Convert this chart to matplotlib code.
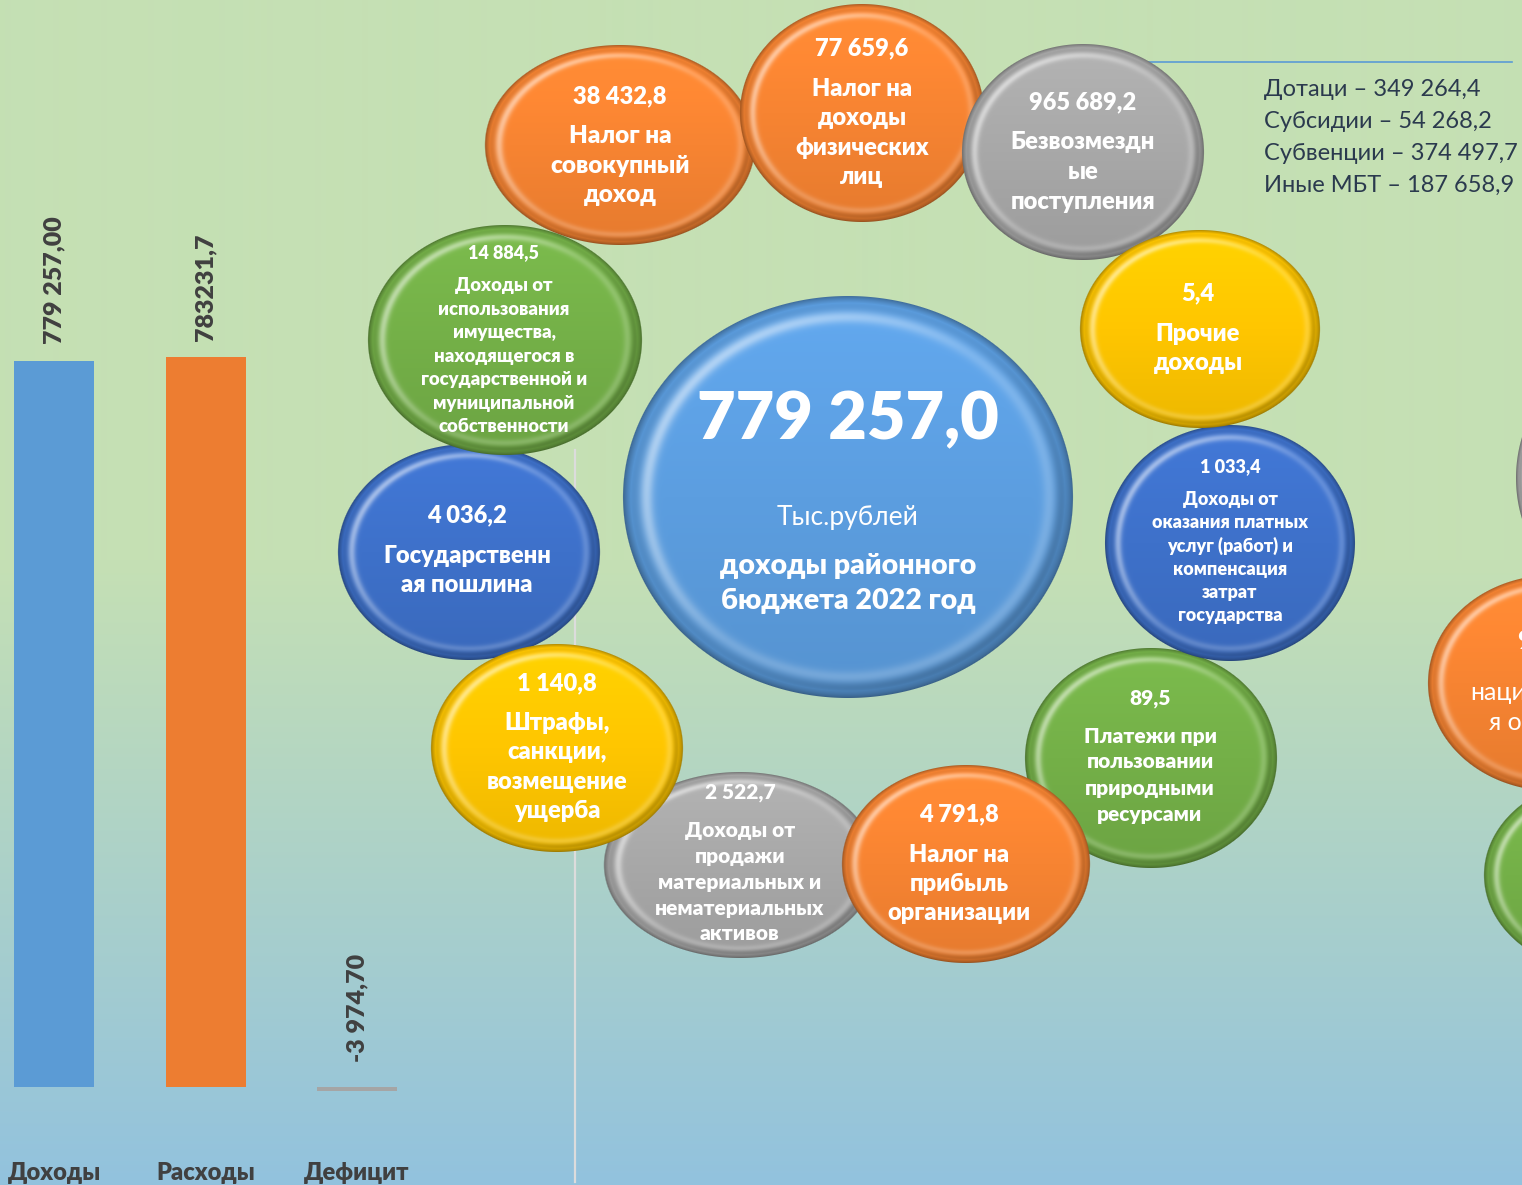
import numpy as np
import matplotlib
matplotlib.use("Agg")
import matplotlib.pyplot as plt

plt.rcParams['font.family'] = ['Lato', 'DejaVu Sans']
BOLD = 'heavy'

# ---------------- data ----------------
bar_categories = ['Доходы', 'Расходы', 'Дефицит']
bar_values = [779257.0, 783231.7, -3974.7]
bar_labels = ['779 257,00', '783231,7', '-3 974,70']

bubble_values = ['38 432,8', '77 659,6', '965 689,2', '5,4', '1 033,4', '89,5',
                 '4 791,8', '2 522,7', '1 140,8', '4 036,2', '14 884,5']
bubble_titles = [
    ['Налог на', 'совокупный', 'доход'],
    ['Налог на', 'доходы', 'физических', 'лиц'],
    ['Безвозмездн', 'ые', 'поступления'],
    ['Прочие', 'доходы'],
    ['Доходы от', 'оказания платных', 'услуг (работ) и', 'компенсация', 'затрат', 'государства'],
    ['Платежи при', 'пользовании', 'природными', 'ресурсами'],
    ['Налог на', 'прибыль', 'организации'],
    ['Доходы от', 'продажи', 'материальных и', 'нематериальных', 'активов'],
    ['Штрафы,', 'санкции,', 'возмещение', 'ущерба'],
    ['Государственн', 'ая пошлина'],
    ['Доходы от', 'использования', 'имущества,', 'находящегося в',
     'государственной и', 'муниципальной', 'собственности'],
]
center_value = '779 257,0'
center_unit = 'Тыс.рублей'
center_title = ['доходы районного', 'бюджета 2022 год']
transfer_lines = ['Дотаци – 349 264,4', 'Субсидии – 54 268,2',
                  'Субвенции – 374 497,7', 'Иные МБТ – 187 658,9']
partial_texts = ['9', 'наци', 'я о']

# ---------------- layout / style ----------------
W, H = 1522, 1185
DPI = 100
fig = plt.figure(figsize=(W / DPI, H / DPI), dpi=DPI)

# background gradient
ax_bg = fig.add_axes([0, 0, 1, 1], zorder=0)
yy = np.arange(H)
top = np.array([197, 224, 180]) / 255
bot = np.array([146, 194, 222]) / 255
t = np.clip((yy - 560) / (H - 560), 0, 1)[:, None]
grad = (top * (1 - t) + bot * t)[:, None, :]
ax_bg.imshow(grad, extent=(0, W, H, 0), aspect='auto', interpolation='bilinear')
ax_bg.set_xlim(0, W); ax_bg.set_ylim(H, 0); ax_bg.axis('off')

# ---------------- bar chart ----------------
base_px, top_px = 1087, 361
scale = (base_px - top_px) / bar_values[0]          # px per unit
ax_top_px, ax_bot_px = 150, 1133
ylim_top = (base_px - ax_top_px) / scale
ylim_bot = -(ax_bot_px - base_px) / scale
spacing = 151.5
x_left_px, x_right_px = 0, 430
ax = fig.add_axes([x_left_px / W, (H - ax_bot_px) / H, (x_right_px - x_left_px) / W,
                   (ax_bot_px - ax_top_px) / H], zorder=1)
ax.patch.set_alpha(0)
bar_colors = ['#5b9bd5', '#ed7d31', '#a5a5a5']
xs = np.arange(len(bar_values))
ax.bar(xs, bar_values, width=80 / spacing, color=bar_colors)
ax.set_xlim(-54 / spacing, (x_right_px - 54) / spacing)
ax.set_ylim(ylim_bot, ylim_top)
for s in ax.spines.values():
    s.set_visible(False)
ax.set_yticks([])
ax.set_xticks(xs)
ax.set_xticklabels(bar_categories, fontsize=17, fontweight=BOLD, color='#404040')
ax.tick_params(axis='x', length=0, pad=21)
for x, v, lab in zip(xs, bar_values, bar_labels):
    off = 12 if v > 0 else 18
    ax.annotate(lab, (x, max(v, 0)), xytext=(0, off), textcoords='offset points',
                rotation=90, ha='center', va='bottom', fontsize=18, fontweight=BOLD,
                color='#404040')

# ---------------- overlay ----------------
ov = fig.add_axes([0, 0, 1, 1], zorder=2)
ov.patch.set_alpha(0)
ov.axis('off')

ov.plot([575, 575], [450, 1182], color='#dcdcdc', lw=1.6, zorder=0.5)
ov.plot([1075, 1512], [62, 62], color='#5b9bd5', lw=1.2, zorder=0.5)

palette = {
    'orange': (247, 132, 50),
    'gray': (168, 168, 168),
    'yellow': (255, 198, 0),
    'blue': (62, 113, 202),
    'green': (116, 176, 72),
    'cblue': (92, 158, 224),
}


def bubble(cx, cy, a, b, key, z):
    base = np.array(palette[key]) / 255.0
    x0, x1 = int(cx - a - 3), int(cx + a + 3)
    y0, y1 = int(cy - b - 3), int(cy + b + 3)
    X, Y = np.meshgrid(np.arange(x0, x1) + 0.5, np.arange(y0, y1) + 0.5)
    u = (X - cx) / a
    v = (Y - cy) / b
    r = np.sqrt(u ** 2 + v ** 2)
    img = np.broadcast_to(base, r.shape + (3,)).copy()
    shade = 1 + 0.07 * (-v)
    img = img * shade[..., None]
    lightdir = (-0.8 * u - 0.6 * v) / (r + 1e-6)
    ring = np.exp(-((r - 0.895) / 0.03) ** 2)
    hl = ring * (0.18 + 0.32 * np.clip(lightdir, 0, 1))
    img = img + (1 - img) * hl[..., None]
    sh = np.exp(-((r - 0.95) / 0.03) ** 2) * (0.10 + 0.12 * np.clip(-lightdir, 0, 1))
    img = img * (1 - sh[..., None])
    rim = np.clip((r - 0.965) / 0.035, 0, 1)
    img = img * (1 - 0.35 * rim[..., None])
    img = np.clip(img, 0, 1)
    alpha = np.clip((1 - r) * min(a, b) + 0.5, 0, 1)
    rgba = np.dstack([img, alpha])
    ov.imshow(rgba, extent=(x0, x1, y1, y0), aspect='auto', zorder=z,
              interpolation='bilinear')


# (cx, cy, a, b, color, text_x, value_y, title_y0, dy, value_fs, title_fs, z)
layout = [
    (620, 145, 135, 100, 'orange', 620, 96, 136, 29.7, 17, 17.5, 1),
    (862, 113, 122, 109, 'orange', 862, 48, 89, 29.3, 17, 17, 2),
    (1083, 152, 121, 108, 'gray', 1083, 102, 142, 30.0, 17, 17, 3),
    (1200, 329, 120, 99, 'yellow', 1198, 293, 334, 29.0, 17, 17, 4),
    (1230, 543, 125, 118, 'blue', 1230, 467, 499, 23.4, 13, 13, 3),
    (1151, 758, 126, 110, 'green', 1150, 699, 736, 26.0, 15, 15, 2),
    (966, 864, 124, 99, 'orange', 959, 814, 855, 29.0, 17, 17, 4),
    (740, 865, 136, 93, 'gray', 740, 792, 830, 26.0, 15, 15, 1),
    (557, 748, 126, 104, 'yellow', 557, 683, 723, 29.3, 17, 17, 3),
    (469, 552, 131, 108, 'blue', 467, 515, 556, 29.0, 17, 17, 1),
    (505, 340, 137, 115, 'green', 504, 253, 286, 23.4, 13, 13.3, 2),
]

for (cx, cy, a, b, key, tx, vy, ty, dy, vfs, tfs, z), val, title in zip(layout, bubble_values, bubble_titles):
    bubble(cx, cy, a, b, key, z)
    ov.text(tx, vy, val, ha='center', va='center', fontsize=vfs, fontweight=BOLD,
            color='white', zorder=z + 0.5)
    for i, line in enumerate(title):
        ov.text(tx, ty + i * dy, line, ha='center', va='center', fontsize=tfs,
                fontweight=BOLD, color='white', zorder=z + 0.5)

# partial bubbles at right edge
bubble(1600, 478, 84, 110, 'gray', 1)
bubble(1553, 683, 125, 108, 'orange', 2)
bubble(1604, 875, 120, 97, 'green', 1)
ov.text(1517, 641, partial_texts[0], ha='left', va='center', fontsize=19,
        fontweight=BOLD, color='white', zorder=2.5)
ov.text(1470, 692, partial_texts[1], ha='left', va='center', fontsize=18,
        color='white', zorder=2.5)
ov.text(1489, 723, partial_texts[2], ha='left', va='center', fontsize=18,
        color='white', zorder=2.5)

# central bubble
bubble(848, 497, 225, 201, 'cblue', 6)
ov.text(848, 420, center_value, ha='center', va='center', fontsize=48,
        fontweight=BOLD, color='white', zorder=6.5)
ov.text(848, 517, center_unit, ha='center', va='center', fontsize=19,
        color='white', zorder=6.5)
for i, line in enumerate(center_title):
    ov.text(848, 566 + i * 35, line, ha='center', va='center', fontsize=20.5,
            fontweight=BOLD, color='white', zorder=6.5)

# transfer list
for i, line in enumerate(transfer_lines):
    ov.text(1264, 89 + i * 32, line, ha='left', va='center', fontsize=17,
            color='#2b3a4e', zorder=1)

ov.set_xlim(0, W)
ov.set_ylim(H, 0)

fig.savefig('out.png', dpi=DPI)
